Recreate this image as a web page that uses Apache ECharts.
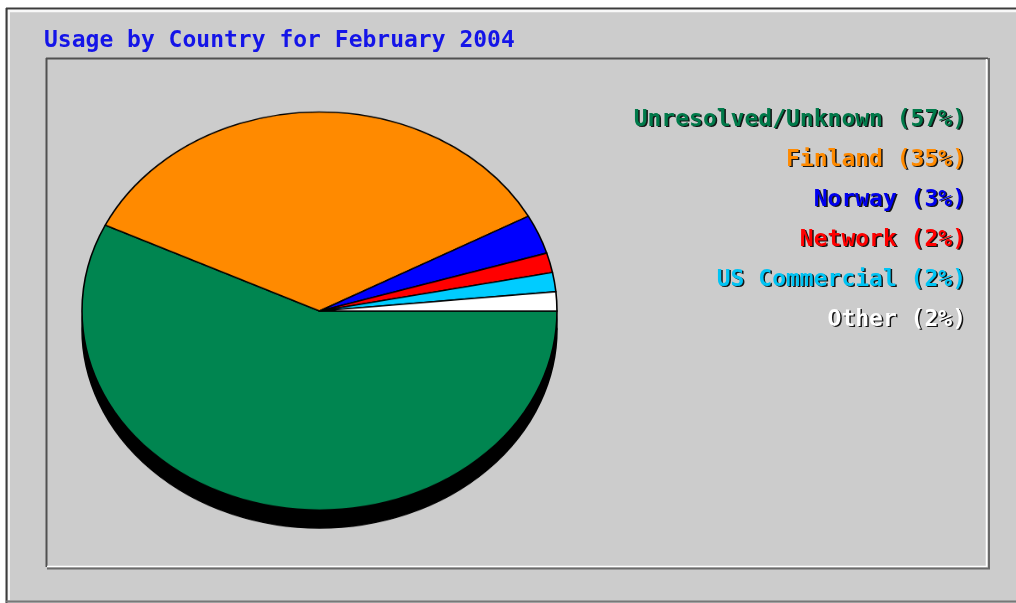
<!DOCTYPE html>
<html>
<head>
<meta charset="utf-8">
<title>Usage by Country for February 2004</title>
<script src="https://cdn.jsdelivr.net/npm/echarts/dist/echarts.min.js"></script>
<style>
  html, body { margin: 0; padding: 0; background: #ffffff; }
  #stage { position: relative; width: 1016px; height: 603px; overflow: hidden; }
  #frame, #pie { position: absolute; left: 0; top: 0; width: 1016px; height: 603px; }
  /* the pie is drawn as a circle and squashed into an ellipse */
  #pie { transform-origin: 0 311px; transform: scaleY(0.838); }
</style>
</head>
<body>
<div id="stage">
  <div id="frame"></div>
  <div id="pie"></div>
</div>
<script>
// Country shares (percent of requests)
const countries = ['Unresolved/Unknown', 'Finland', 'Norway', 'Network', 'US Commercial', 'Other'];
const shares = [57.1, 35.0, 3.2, 1.6, 1.55, 1.55];
const sliceColors = ['#008550', '#ff8a00', '#0000ff', '#ff0000', '#00ccff', '#ffffff'];
const labelColors = ['#007a4a', '#ff8a00', '#0000ee', '#ff0000', '#00c4f4', '#ffffff'];
const chartTitle = 'Usage by Country for February 2004';

const total = shares.reduce((a, b) => a + b, 0);
const pct = v => Math.round(v / total * 100);
const monoFont = 'bold 23px "DejaVu Sans Mono", "Liberation Mono", monospace';

// ---- frame, title and legend text ----
const frame = echarts.init(document.getElementById('frame'), null, { renderer: 'canvas' });
const legendTexts = countries.map((name, i) => ({
  type: 'text',
  silent: true,
  style: {
    text: name + ' (' + pct(shares[i]) + '%)',
    x: 966,
    y: 120 + i * 40,
    align: 'right',
    verticalAlign: 'middle',
    font: monoFont,
    fill: labelColors[i],
    textShadowColor: 'rgba(0,0,0,0.9)',
    textShadowOffsetX: 1.5,
    textShadowOffsetY: 1.5,
    textShadowBlur: 0.5
  }
}));

const dark = '#3c3c3c';
frame.setOption({
  animation: false,
  backgroundColor: '#ffffff',
  title: {
    text: chartTitle,
    left: 44,
    top: 29,
    padding: 0,
    textStyle: {
      color: '#1414e8',
      fontFamily: '"DejaVu Sans Mono", "Liberation Mono", monospace',
      fontWeight: 'bold',
      fontSize: 23,
      lineHeight: 24
    }
  },
  graphic: [
    // outer panel
    { type: 'rect', silent: true, z: -10, shape: { x: 6, y: 8, width: 1010, height: 595 }, style: { fill: '#cccccc' } },
    { type: 'line', silent: true, shape: { x1: 6, y1: 8.5, x2: 1016, y2: 8.5 }, style: { stroke: dark, lineWidth: 2 } },
    { type: 'line', silent: true, shape: { x1: 6.5, y1: 8, x2: 6.5, y2: 603 }, style: { stroke: dark, lineWidth: 2 } },
    { type: 'line', silent: true, shape: { x1: 6, y1: 601.5, x2: 1016, y2: 601.5 }, style: { stroke: '#777777', lineWidth: 2 } },
    { type: 'line', silent: true, shape: { x1: 8, y1: 11, x2: 1016, y2: 11 }, style: { stroke: '#f8f8f8', lineWidth: 2.5 } },
    { type: 'line', silent: true, shape: { x1: 9, y1: 10, x2: 9, y2: 600 }, style: { stroke: '#f8f8f8', lineWidth: 2 } },
    // inner plot panel, bevelled
    { type: 'line', silent: true, shape: { x1: 46, y1: 58.5, x2: 988, y2: 58.5 }, style: { stroke: '#505050', lineWidth: 2 } },
    { type: 'line', silent: true, shape: { x1: 46.5, y1: 58, x2: 46.5, y2: 567 }, style: { stroke: '#505050', lineWidth: 2 } },
    { type: 'line', silent: true, shape: { x1: 47, y1: 566.5, x2: 987, y2: 566.5 }, style: { stroke: '#ffffff', lineWidth: 1.5 } },
    { type: 'line', silent: true, shape: { x1: 986.5, y1: 59, x2: 986.5, y2: 567 }, style: { stroke: '#ffffff', lineWidth: 1.5 } },
    { type: 'line', silent: true, shape: { x1: 47, y1: 568.5, x2: 990, y2: 568.5 }, style: { stroke: '#6a6a6a', lineWidth: 2 } },
    { type: 'line', silent: true, shape: { x1: 989, y1: 58, x2: 989, y2: 569 }, style: { stroke: '#6a6a6a', lineWidth: 2 } }
  ].concat(legendTexts)
});

// ---- pie with its dropped depth ----
const pie = echarts.init(document.getElementById('pie'), null, { renderer: 'canvas' });
const pieData = countries.map((name, i) => ({ name: name, value: shares[i], itemStyle: { color: sliceColors[i] } }));
const depthData = countries.map((name, i) => ({ name: name, value: shares[i] }));

const pieBase = {
  type: 'pie',
  radius: 237.5,
  startAngle: 0,
  clockwise: true,
  label: { show: false },
  labelLine: { show: false },
  emphasis: { disabled: true },
  silent: true,
  avoidLabelOverlap: false
};

pie.setOption({
  animation: false,
  backgroundColor: 'transparent',
  series: [
    Object.assign({}, pieBase, {
      name: 'depth',
      z: 1,
      center: [319.5, 332.5],
      data: depthData,
      itemStyle: { color: '#000000', borderColor: '#000000', borderWidth: 1.5 }
    }),
    Object.assign({}, pieBase, {
      name: 'Usage by Country',
      z: 2,
      center: [319.5, 311],
      data: pieData,
      itemStyle: { borderColor: '#000000', borderWidth: 1.6 }
    })
  ]
});
</script>
</body>
</html>
